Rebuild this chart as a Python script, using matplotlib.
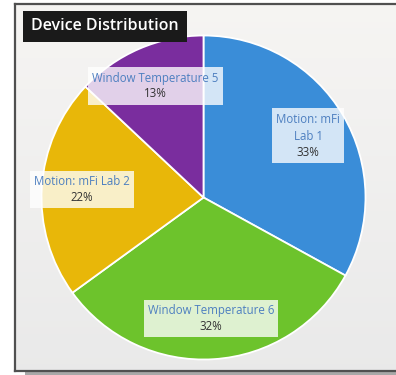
import numpy as np
import matplotlib.pyplot as plt
from matplotlib.lines import Line2D
from matplotlib.patches import Rectangle
from matplotlib.offsetbox import TextArea, VPacker, AnnotationBbox

# данные круговой диаграммы (по часовой стрелке от 12 часов)
labels = ["Motion: mFi\nLab 1", "Window Temperature 6", "Motion: mFi Lab 2", "Window Temperature 5"]
shares = [33, 32, 22, 13]
colors = ["#3a8dd8", "#6dc32c", "#e8b709", "#7a2d9e"]
title = "Device Distribution"

W, H = 396, 375
fig = plt.figure(figsize=(W / 100, H / 100), dpi=100)
fig.patch.set_facecolor("white")


def px(x, y, w, h):
    # прямоугольник в пикселях (от левого верхнего угла) -> доли фигуры
    return [x / W, 1 - (y + h) / H, w / W, h / H]


# фон панели: вертикальный градиент полосами (под осями)
x0, y0, y1 = 15 / W, 1 - 371 / H, 1 - 4 / H
top = np.array([0.962, 0.957, 0.950])
bot = np.array([0.915, 0.915, 0.915])
n = 60
edges = np.linspace(y1, y0, n + 1)
for i in range(n):
    c = top + (bot - top) * i / (n - 1)
    fig.patches.append(Rectangle((x0, edges[i + 1]), 1.0, edges[i] - edges[i + 1] + 0.002,
                                 transform=fig.transFigure, facecolor=c, edgecolor="none",
                                 zorder=-5))

# рамка панели отдельными отрезками: левый, верхний, нижний (правый край за границей)
for xs, ys in [([x0, 1.02], [y1, y1]), ([x0, 1.02], [y0, y0]), ([x0, x0], [y0, y1])]:
    fig.lines.append(Line2D(xs, ys, transform=fig.transFigure, color="#505050",
                            linewidth=1.6, solid_capstyle="projecting", zorder=10))
fig.patches.append(Rectangle((25 / W, 0), 1.0, 3 / H, transform=fig.transFigure,
                             facecolor="#a8a8a8", edgecolor="none", zorder=-4))

# круговая диаграмма
ax = fig.add_axes(px(203.5 - 162, 197.5 - 162, 324, 324))
ax.set_zorder(1)
wedges, _ = ax.pie(shares, colors=colors, startangle=90, counterclock=False,
                   wedgeprops=dict(edgecolor="white", linewidth=1.3))
ax.set_xlim(-1, 1)
ax.set_ylim(-1, 1)
ax.set_aspect("equal")
ax.set_axis_off()

# подписи секторов: название синим, процент тёмным, на полупрозрачной подложке
font = dict(family="Open Sans", fontsize=8.3)
for w, lab, val in zip(wedges, labels, shares):
    ang = np.deg2rad((w.theta1 + w.theta2) / 2)
    r = 0.75
    xy = (r * np.cos(ang), r * np.sin(ang))
    name = TextArea(lab, textprops=dict(color="#4d7fc0", ha="center", multialignment="center",
                                        linespacing=1.45, **font))
    pct = TextArea(f"{val}%", textprops=dict(color="#333333", **font))
    box = VPacker(children=[name, pct], align="center", pad=0, sep=2)
    ab = AnnotationBbox(box, xy, frameon=True, pad=0.4,
                        bboxprops=dict(facecolor="white", alpha=0.78, edgecolor="none",
                                       boxstyle="square"))
    ax.add_artist(ab)

# заголовок на тёмной плашке
fig.text(31 / W, 1 - 26.5 / H, title, color="white", fontsize=11.5, fontweight="semibold",
         family="Open Sans", va="center", ha="left", zorder=5,
         bbox=dict(facecolor="#1a1a1a", edgecolor="none", boxstyle="square,pad=0.5"))

fig.savefig("out.png", dpi=100)
